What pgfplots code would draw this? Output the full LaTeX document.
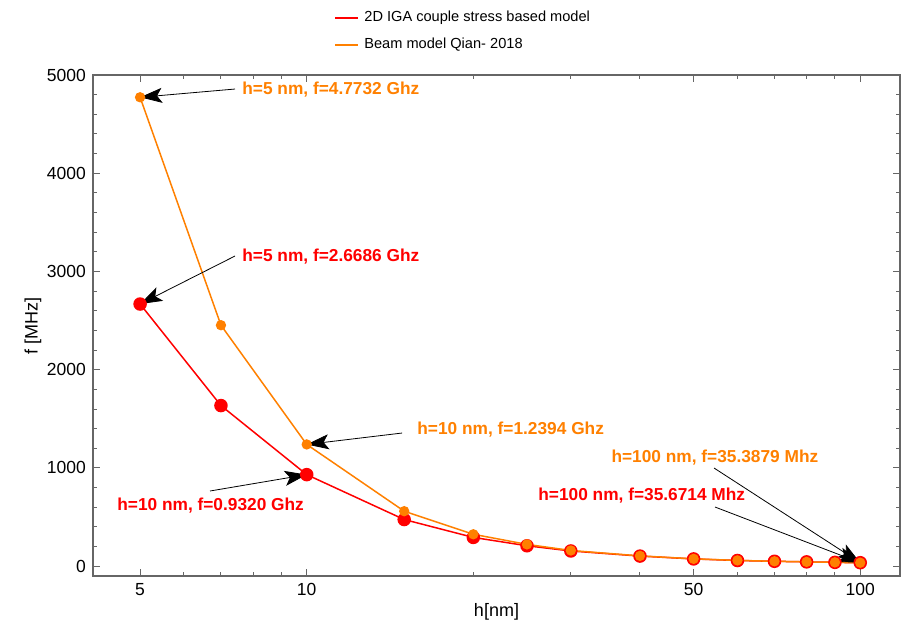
\documentclass[border=0pt]{standalone}
\usepackage{fontspec}
\setmainfont{Liberation Sans}
\usepackage{pgfplots}
\pgfplotsset{compat=1.18}
\usetikzlibrary{arrows.meta}
\definecolor{mred}{rgb}{1,0,0}
\definecolor{morange}{rgb}{1,0.5,0}
\definecolor{framegray}{gray}{0.4}

\begin{document}
\begin{tikzpicture}
\begin{axis}[
  width=403.5pt, height=250.5pt,
  scale only axis,
  clip=false,
  xmode=log,
  xmin=4.11, xmax=118,
  ymin=-100, ymax=5000,
  xtick={5,10,50,100},
  xticklabels={5,10,50,100},
  minor xtick={6,7,8,9,20,30,40,60,70,80,90},
  ytick={0,1000,2000,3000,4000,5000},
  minor y tick num=4,
  tick align=inside,
  major tick length=3.5pt,
  minor tick length=2pt,
  axis line style={framegray, line width=0.6pt},
  every tick/.style={framegray, line width=0.5pt},
  tick label style={font=\fontsize{8.75}{10}\selectfont, black},
  /pgf/number format/assume math mode=true,
  scaled y ticks=false,
  yticklabel style={/pgf/number format/1000 sep={}},
  xlabel={h[nm]}, ylabel={f [MHz]},
  label style={font=\fontsize{9}{11}\selectfont},
  xlabel style={yshift=3pt},
  ylabel style={yshift=-4pt},
]
\addplot[color=mred, line width=0.75pt, mark=*, mark size=3pt, mark options={fill=mred, draw=mred}]
  coordinates {(5,2668.6) (7,1635) (10,932) (15,475) (20,293) (25,208) (30,155)
    (40,103) (50,74) (60,58) (70,50) (80,44) (90,39) (100,35.67)};
\addplot[color=morange, line width=0.75pt, mark=*, mark size=2.2pt, mark options={fill=morange, draw=morange}]
  coordinates {(5,4773.2) (7,2453) (10,1239.4) (15,560) (20,325) (25,222) (30,160)
    (40,105) (50,75) (60,59) (70,50) (80,44) (90,39) (100,35.39)};

% legend, drawn by hand above the frame
\draw[mred, line width=0.75pt] (rel axis cs:0.2999,1.1138) -- (rel axis cs:0.3284,1.1138);
\node[anchor=west, inner sep=0pt, font=\fontsize{7.3}{9}\selectfont] at (rel axis cs:0.3358,1.1138) {2D IGA couple stress based model};
\draw[morange, line width=0.75pt] (rel axis cs:0.2999,1.0599) -- (rel axis cs:0.3284,1.0599);
\node[anchor=west, inner sep=0pt, font=\fontsize{7.3}{9}\selectfont] at (rel axis cs:0.3358,1.0599) {Beam model Qian- 2018};

\tikzset{ann/.style={anchor=west, font=\fontsize{8.65}{10}\selectfont\bfseries, inner sep=0pt},
  arr/.style={-{Stealth[length=11pt, width=7.5pt, inset=2.5pt]}, black, line width=0.4pt}}
\node[ann, morange] at (rel axis cs:0.1846,0.970) {h=5 nm, f=4.7732 Ghz};
\draw[arr] (rel axis cs:0.176,0.972) -- (axis cs:5,4773.2);
\node[ann, mred] at (rel axis cs:0.1846,0.6367) {h=5 nm, f=2.6686 Ghz};
\draw[arr] (rel axis cs:0.176,0.6387) -- (axis cs:5,2668.6);
\node[ann, morange] at (rel axis cs:0.4015,0.2914) {h=10 nm, f=1.2394 Ghz};
\draw[arr] (rel axis cs:0.383,0.2854) -- (axis cs:10,1239.4);
\node[ann, mred] at (rel axis cs:0.0297,0.1397) {h=10 nm, f=0.9320 Ghz};
\draw[arr] (rel axis cs:0.145,0.1697) -- (axis cs:10,932);
\node[ann, morange] at (rel axis cs:0.642,0.2355) {h=100 nm, f=35.3879 Mhz};
\draw[arr] (rel axis cs:0.7695,0.2156) -- (axis cs:100,35.39);
\node[ann, mred] at (rel axis cs:0.5514,0.1597) {h=100 nm, f=35.6714 Mhz};
\draw[arr] (rel axis cs:0.7708,0.1377) -- (axis cs:100,35.67);

\path (rel axis cs:-0.1152,-0.0938) rectangle (rel axis cs:1.0074,1.1497);
\end{axis}
\end{tikzpicture}
\end{document}
